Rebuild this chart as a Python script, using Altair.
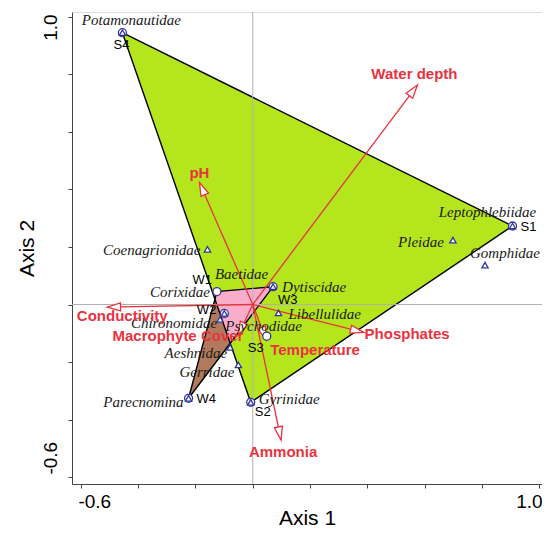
import math
import altair as alt
import pandas as pd

# ---------------- data ----------------
sites = ["S1", "S2", "S3", "S4", "W1", "W2", "W3", "W4"]
site_x = [0.907, -0.007, 0.049, -0.455, -0.125, -0.099, 0.071, -0.224]
site_y = [0.273, -0.340, -0.110, 0.945, 0.045, -0.031, 0.062, -0.326]

species = ["Potamonautidae", "Leptophlebiidae", "Gyrinidae", "Dytiscidae",
           "Parecnomina", "Psychodidae", "Chironomidae", "Coenagrionidae",
           "Pleidae", "Gomphidae", "Libellulidae", "Aeshnidae", "Gerridae",
           "Corixidae", "Baetidae"]
species_x = [-0.455, 0.907, -0.007, 0.071, -0.224, -0.099, -0.114, -0.158,
             0.699, 0.811, 0.090, -0.079, -0.050, -0.125, -0.125]
species_y = [0.945, 0.273, -0.340, 0.062, -0.326, -0.031, -0.052, 0.192,
             0.224, 0.137, -0.029, -0.149, -0.210, 0.045, 0.045]
hidden_species = ["Corixidae", "Baetidae"]   # lie under site W1

env_vars = ["Water depth", "pH", "Conductivity", "Macrophyte Cover",
            "Temperature", "Phosphates", "Ammonia"]
env_x = [0.575, -0.186, -0.508, -0.050, 0.047, 0.387, 0.099]
env_y = [0.763, 0.424, -0.009, -0.106, -0.123, -0.097, -0.471]

# ---------------- styling / label placement ----------------
GREEN = "#B5E61D"
BROWN = "#B27A5C"
PINK = "#F8AECB"
RED = "#E8333F"
BLUE = "#34349E"

species_lab = {
    "Potamonautidae": ("center", 9, -13),
    "Leptophlebiidae": ("center", -25, -14),
    "Gyrinidae": ("left", 8, -3),
    "Dytiscidae": ("left", 9, 0),
    "Parecnomina": ("right", -5, 4),
    "Psychodidae": ("left", 1, 13),
    "Chironomidae": ("right", -3, 4),
    "Coenagrionidae": ("right", -7, 1),
    "Pleidae": ("right", -9, 2),
    "Gomphidae": ("center", 20, -12),
    "Libellulidae": ("left", 10, 1),
    "Aeshnidae": ("right", -3, 6),
    "Gerridae": ("right", -4, 7),
    "Corixidae": ("right", -7, 0),
    "Baetidae": ("left", -2, -18),
}
site_lab = {
    "S1": ("left", 8, 1), "S2": ("left", 4, 10), "S3": ("right", -3, 12),
    "S4": ("center", -1, 12), "W1": ("right", -5, -12), "W2": ("right", -8, -3),
    "W3": ("left", 5, 13), "W4": ("left", 8, 1),
}
env_lab = {
    "Water depth": ("center", -3, -11), "pH": ("center", 0, -10),
    "Conductivity": ("center", 15, 9), "Macrophyte Cover": ("right", 5, 1),
    "Temperature": ("left", 4, 10), "Phosphates": ("left", 1, 2),
    "Ammonia": ("center", 2, 12),
}

# ---------------- geometry helpers ----------------
def hull(pts):
    pts = sorted(set(pts))
    def cross(o, a, b):
        return (a[0]-o[0])*(b[1]-o[1]) - (a[1]-o[1])*(b[0]-o[0])
    lower, upper = [], []
    for p in pts:
        while len(lower) >= 2 and cross(lower[-2], lower[-1], p) <= 0:
            lower.pop()
        lower.append(p)
    for p in reversed(pts):
        while len(upper) >= 2 and cross(upper[-2], upper[-1], p) <= 0:
            upper.pop()
        upper.append(p)
    return lower[:-1] + upper[:-1]


def clip(subject, clipper):
    def inside(p, a, b):
        return (b[0]-a[0])*(p[1]-a[1]) - (b[1]-a[1])*(p[0]-a[0]) >= 0
    def inter(p, q, a, b):
        x1, y1 = p; x2, y2 = q; x3, y3 = a; x4, y4 = b
        den = (x1-x2)*(y3-y4) - (y1-y2)*(x3-x4)
        t = ((x1-x3)*(y3-y4) - (y1-y3)*(x3-x4)) / den
        return (x1 + t*(x2-x1), y1 + t*(y2-y1))
    out = list(subject)
    for i in range(len(clipper)):
        a, b = clipper[i], clipper[(i+1) % len(clipper)]
        inp, out = out, []
        if not inp:
            break
        s = inp[-1]
        for e in inp:
            if inside(e, a, b):
                if not inside(s, a, b):
                    out.append(inter(s, e, a, b))
                out.append(e)
            elif inside(s, a, b):
                out.append(inter(s, e, a, b))
            s = e
    return out


def poly_df(pts):
    closed = list(pts) + [pts[0]]
    return pd.DataFrame({"x": [p[0] for p in closed],
                         "y": [p[1] for p in closed],
                         "o": list(range(len(closed)))})

s_pts = [(x, y) for n, x, y in zip(sites, site_x, site_y) if n.startswith("S")]
w_pts = [(x, y) for n, x, y in zip(sites, site_x, site_y) if n.startswith("W")]
s_hull = hull(s_pts)
w_hull = hull(w_pts)
overlap = clip(w_hull, s_hull)

# ---------------- scales / axes ----------------
XDOM = [-0.631, 1.010]
YDOM = [-0.624, 1.017]
PXW, PXH = 470, 472
SX = PXW / (XDOM[1] - XDOM[0])
SY = PXH / (YDOM[1] - YDOM[0])
TICKS = [-0.6, -0.4, -0.2, 0.0, 0.2, 0.4, 0.6, 0.8, 1.0]
LBL = "abs(datum.value+0.6)<1e-6 ? '-0.6' : (abs(datum.value-1)<1e-6 ? '1.0' : '')"

xaxis = alt.Axis(values=TICKS, labelExpr=LBL, grid=False, tickSize=4,
                 labelFontSize=19, labelFont="Liberation Sans", labelColor="black",
                 labelOverlap=False, labelFlush=12, labelFlushOffset=3,
                 labelPadding=4, title="Axis 1", titleFontSize=21,
                 titleFont="Liberation Sans", titleFontWeight="normal",
                 titleColor="black", titlePadding=-4,
                 domainColor="#444", tickColor="#444")
yaxis = alt.Axis(values=TICKS, labelExpr=LBL, grid=False, tickSize=4,
                 labelFontSize=19, labelFont="Liberation Sans", labelColor="black",
                 labelOverlap=False, labelAngle=270, labelBaseline="alphabetic",
                 labelAlign={"condition": {"test": "datum.value < 0", "value": "left"}, "value": "right"},
                 labelOffset=-3, labelPadding=12,
                 title="Axis 2", titleFontSize=21,
                 titleFont="Liberation Sans", titleFontWeight="normal",
                 titleColor="black", titlePadding=4,
                 domainColor="#444", tickColor="#444")
xs = alt.Scale(domain=XDOM, nice=False, zero=False)
ys = alt.Scale(domain=YDOM, nice=False, zero=False)

def X(f):
    return alt.X(f"{f}:Q", scale=xs, axis=xaxis)

def Y(f):
    return alt.Y(f"{f}:Q", scale=ys, axis=yaxis)

# ---------------- tables ----------------
site_df = pd.DataFrame({"name": sites, "x": site_x, "y": site_y})
sp_df = pd.DataFrame({"name": species, "x": species_x, "y": species_y})
sp_df["shown"] = [n not in hidden_species for n in species]

env_df = pd.DataFrame({"name": env_vars, "x": env_x, "y": env_y})
env_df["x0"] = 0.0
env_df["y0"] = 0.0
env_df["angle"] = [(math.degrees(math.atan2(x * SX, y * SY)) + 360) % 360
                   for x, y in zip(env_x, env_y)]

# ---------------- layers ----------------
def poly_fill(df, color):
    return alt.Chart(df).mark_line(fill=color, strokeOpacity=0).encode(
        x=X("x"), y=Y("y"), order="o:Q")

def poly_edge(df):
    return alt.Chart(df).mark_line(color="black", strokeWidth=1.4).encode(
        x=X("x"), y=Y("y"), order="o:Q")

layers = [
    poly_fill(poly_df(s_hull), GREEN),
    poly_fill(poly_df(w_hull), BROWN),
    poly_fill(poly_df(overlap), PINK),
    poly_edge(poly_df(s_hull)),
    poly_edge(poly_df(w_hull)),
    alt.Chart(pd.DataFrame({"x": [0.0]})).mark_rule(color="#B0B0B0", strokeWidth=1).encode(x=X("x")),
    alt.Chart(pd.DataFrame({"y": [0.0]})).mark_rule(color="#B0B0B0", strokeWidth=1).encode(y=Y("y")),
    alt.Chart(env_df).mark_rule(color=RED, strokeWidth=1.3).encode(
        x=X("x0"), y=Y("y0"), x2="x:Q", y2="y:Q"),
    alt.Chart(env_df).mark_point(shape="M0,0 L-0.4,1.3 L0.4,1.3 Z", size=420,
                                 filled=True, fill="white", stroke=RED,
                                 strokeWidth=1.3, opacity=1).encode(
        x=X("x"), y=Y("y"), angle=alt.Angle("angle:Q", scale=None)),
    alt.Chart(site_df).mark_point(shape="circle", size=64, filled=True, fill="white",
                                  stroke=BLUE, strokeWidth=1.3, opacity=1).encode(
        x=X("x"), y=Y("y")),
    alt.Chart(sp_df).transform_filter("datum.shown").mark_point(
        shape="triangle-up", size=40, filled=True, fill="white", stroke=BLUE,
        strokeWidth=1.3, opacity=1).encode(x=X("x"), y=Y("y")),
]

def text_layers(df, placement, **style):
    out = []
    for name, (al, dx, dy) in placement.items():
        out.append(alt.Chart(df).transform_filter(
            alt.FieldEqualPredicate(field="name", equal=name)).mark_text(
            align=al, baseline="middle", dx=dx, dy=dy, **style).encode(
            x=X("x"), y=Y("y"), text="name:N"))
    return out

layers += text_layers(sp_df, species_lab, font="Liberation Serif", fontStyle="italic",
                      fontSize=15, color="#1a1a1a")
layers += text_layers(site_df, site_lab, font="Liberation Sans", fontSize=13, color="black")
layers += text_layers(env_df, env_lab, font="Liberation Sans", fontSize=15,
                      fontWeight="bold", color=RED)

chart = alt.layer(*layers).properties(
    width=PXW, height=PXH,
    autosize=alt.AutoSizeParams(type="none"),
    padding={"left": 64, "top": 4, "right": 0, "bottom": 46},
).configure_view(stroke="#444", strokeWidth=1).configure(font="Liberation Sans")

chart.save("out.html", embed_options={"renderer": "svg", "actions": False})
